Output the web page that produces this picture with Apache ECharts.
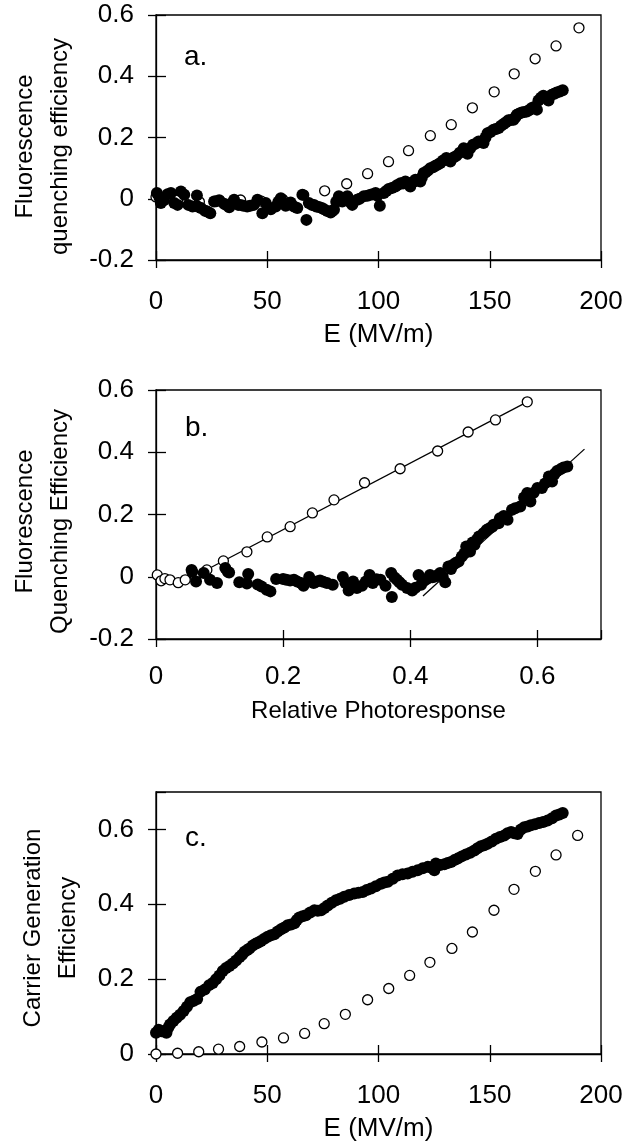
<!DOCTYPE html>
<html>
<head>
<meta charset="utf-8">
<script src="https://cdn.jsdelivr.net/npm/echarts@6/dist/echarts.min.js"></script>
<style>html,body{margin:0;padding:0;background:#fff}#c{width:634px;height:1147px}</style>
</head>
<body>
<div id="c"></div>
<script>
// ---------- DATA ----------
// Panel a: quenching efficiency vs E (MV/m)
const aHollow = [[0,.006],[9.7,-.004],[19.5,-.01],[28.6,-.006],[38,-.004],[47.4,-.008],[56.9,-.002],[66.4,.012],[75.8,.026],[85.7,.049],[95.1,.082],[104.5,.121],[113.5,.157],[123.3,.206],[132.7,.242],[142.2,.297],[152,.349],[161,.408],[170.4,.457],[179.8,.499],[190.1,.558]];
const aSolid = [[0.4,.019],[1.5,.005],[2.2,-.014],[3.5,-.005],[5.2,.015],[6.7,.019],[8.2,-.014],[9.7,-.02],[11.2,.024],[12.7,.013],[14.5,-.02],[16.4,-.025],[18.4,.011],[18.7,-.025],[20.2,-.03],[22,-.039],[23,-.042],[24.4,-.047],[26.1,-.009],[27,-.008],[28.4,-.005],[30.6,-.016],[31.5,-.02],[32.9,-.028],[34,-.015],[35.1,-.003],[36.9,-.02],[38,-.02],[39.3,-.023],[41,-.025],[42.3,-.023],[44,-.02],[45.6,-.003],[47.8,-.047],[49.3,-.014],[51.6,-.034],[53.8,-.025],[55,-.01],[56.1,.002],[58.3,-.023],[59.5,-.018],[60.5,-.012],[62,-.025],[63.5,-.03],[65.8,.013],[67.6,-.069],[68.7,-.014],[70,-.02],[71,-.02],[72,-.025],[73.2,-.027],[74.5,-.03],[75.5,-.034],[77,-.04],[78.5,-.045],[79.2,-.04],[80,-.036],[81,-.01],[82.2,.008],[83.7,-.009],[85,0],[86,.008],[87,-.01],[88.2,-.02],[90.4,-.003],[91.5,0],[93.4,.008],[95,.01],[96.4,.013],[97.5,.015],[98.7,.019],[99.5,.01],[100.6,-.023],[102.4,.019],[103.5,.025],[104.6,.032],[106,.035],[107.6,.04],[108.5,.045],[109.9,.051],[111,.05],[112.1,.056],[113.2,.05],[114.3,.04],[115.5,.055],[116.6,.062],[117.7,.06],[118.8,.056],[119.5,.07],[120.3,.084],[121.1,.086],[122.2,.092],[123.3,.1],[124.5,.103],[125.6,.108],[126.7,.112],[127.8,.117],[129,.125],[130.5,.133],[131.4,.128],[132.3,.122],[133.7,.135],[135,.14],[136.5,.15],[138.3,.165],[139.1,.158],[140,.147],[141.2,.165],[142.5,.176],[143.7,.18],[145,.187],[146.1,.185],[147.2,.182],[148.1,.2],[149,.214],[150.3,.218],[151.7,.225],[152.8,.228],[154,.231],[155.1,.238],[156.2,.244],[157.3,.25],[158.4,.256],[159.5,.257],[160.7,.258],[161.5,.266],[162.2,.274],[163.3,.278],[164.4,.282],[165.5,.283],[166.7,.285],[167.8,.29],[168.9,.296],[170,.3],[171.2,.291],[171.9,.321],[173,.33],[174.1,.336],[175.2,.33],[176.4,.321],[177.9,.34],[179,.343],[180.1,.347],[181.5,.35],[182.8,.354]];

// Panel b: quenching efficiency vs relative photoresponse
const bHollow = [[0.002,.006],[0.008,-.013],[0.014,-.006],[0.022,-.01],[0.035,-.019],[0.046,-.01],[0.062,0],[0.08,.022],[0.106,.051],[0.143,.08],[0.175,.128],[0.211,.161],[0.246,.205],[0.28,.247],[0.328,.302],[0.384,.347],[0.443,.404],[0.491,.465],[0.534,.504],[0.584,.562]];
const bSolid = [[.056,.022],[.057,.016],[.063,-.015],[.075,.012],[.085,-.01],[.096,-.02],[.109,.028],[.113,.016],[.115,.014],[.131,-.018],[.143,-.022],[.145,.009],[.16,-.025],[.166,-.031],[.174,-.042],[.18,-.047],[.189,-.007],[.2,-.007],[.205,-.01],[.211,-.012],[.217,-.01],[.222,-.015],[.228,-.02],[.232,-.029],[.241,-.001],[.248,-.02],[.253,-.015],[.258,-.012],[.263,-.016],[.269,-.02],[.278,-.026],[.294,-.001],[.298,-.02],[.303,-.044],[.31,-.015],[.316,-.036],[.324,-.029],[.33,-.015],[.336,.006],[.341,-.02],[.347,-.008],[.353,-.01],[.361,-.029],[.37,.012],[.371,-.065],[.375,-.002],[.379,-.01],[.383,-.018],[.387,-.026],[.395,-.036],[.403,-.044],[.408,-.035],[.413,.006],[.417,-.026],[.42,-.015],[.424,-.01],[.428,-.005],[.431,.006],[.435,-.002],[.439,.001],[.443,.005],[.447,.012],[.451,0],[.455,-.018],[.46,.033],[.464,.025],[.468,.039],[.472,.045],[.476,.049],[.481,.065],[.485,.075],[.488,.097],[.494,.081],[.498,.11],[.501,.103],[.505,.12],[.508,.129],[.515,.14],[.52,.15],[.524,.155],[.529,.161],[.531,.167],[.539,.172],[.541,.188],[.547,.195],[.553,.183],[.56,.215],[.565,.22],[.573,.226],[.579,.255],[.584,.269],[.589,.242],[.594,.27],[.6,.285],[.607,.285],[.612,.3],[.618,.322],[.623,.306],[.627,.33],[.631,.34],[.636,.345],[.641,.351],[.647,.354]];
const bFitHollow = [[0.066,0.008],[0.584,0.562]];
const bFitSolid = [[0.42,-0.062],[0.674,0.41]];

// Panel c: carrier generation efficiency vs E (MV/m)
const cHollow = [[0,0],[9.7,.002],[19.2,.006],[28.1,.013],[37.6,.02],[47.6,.032],[57.3,.043],[66.8,.055],[75.6,.081],[85.1,.106],[95.1,.145],[104.6,.175],[114,.21],[123.1,.245],[133,.282],[142.2,.326],[151.9,.384],[160.9,.44],[170.5,.488],[179.8,.532],[189.5,.584]];
const cSolid = [[0,.057],[1.2,.065],[2.4,.061],[3.6,.06],[4.7,.057],[5.5,.07],[6.3,.079],[7.8,.088],[9.3,.097],[10.8,.105],[12.4,.115],[13.9,.126],[15.4,.138],[17,.142],[18.5,.147],[20,.166],[21.9,.172],[23.9,.184],[25.5,.19],[27,.2],[28.5,.21],[30,.222],[31.5,.23],[33,.235],[34.5,.242],[36,.25],[37.6,.259],[38.7,.265],[39.8,.273],[41,.278],[42,.282],[43.5,.29],[45,.295],[46,.298],[47.2,.302],[48.7,.308],[50.2,.313],[51.7,.317],[53.2,.32],[54.7,.327],[56.2,.333],[57.7,.338],[59.2,.344],[60.7,.346],[62.2,.349],[63.3,.358],[64.4,.365],[65.9,.368],[67.4,.371],[69.3,.378],[71.2,.384],[72.7,.383],[74.2,.384],[75.7,.39],[77.2,.397],[79,.404],[80.9,.411],[82.7,.415],[84.6,.42],[86.8,.425],[89.1,.429],[91,.431],[92.9,.433],[94.7,.438],[96.6,.442],[98.8,.448],[101.1,.455],[102.6,.458],[104.2,.46],[106.4,.468],[108.6,.477],[110.8,.48],[113.1,.482],[115.3,.487],[117.6,.491],[119.9,.496],[122.2,.5],[123.6,.498],[125.1,.491],[125.8,.509],[127.7,.505],[129.6,.507],[131.1,.51],[132.6,.513],[134.1,.518],[135.6,.522],[137.4,.528],[139.3,.533],[141.2,.538],[143.1,.544],[144.5,.55],[146,.555],[147.5,.558],[149,.562],[150.9,.568],[152.8,.575],[154.6,.58],[156.5,.584],[158,.59],[159.6,.593],[161,.59],[162.5,.588],[164,.6],[165.5,.606],[167,.608],[168.5,.611],[170.3,.614],[172.2,.617],[174,.62],[176,.624],[178,.63],[179.8,.637],[181.3,.64],[182.8,.644]];

// Text
const panelLabels = ['a.', 'b.', 'c.'];
const xNames = ['E (MV/m)', 'Relative Photoresponse', 'E (MV/m)'];
const yNames = ['Fluorescence\nquenching efficiency', 'Fluorescence\nQuenching Efficiency', 'Carrier Generation\nEfficiency'];

// ---------- CHART ----------
const FONT = 'Liberation Sans, Arial, Helvetica, sans-serif';
const chart = echarts.init(document.getElementById('c'), null, {renderer: 'canvas'});
const fmt = v => String(Math.round(v * 10) / 10);
const lineStyle = {color: '#000', width: 1.3};

const grids = [
  {left: 155, top: 15, width: 446, height: 245},
  {left: 156, top: 390, width: 445, height: 249},
  {left: 156, top: 792, width: 445, height: 262}
];
const xRanges = [[0, 200, 50], [0, 0.7, 0.2], [0, 200, 50]];
const yRanges = [[-0.2, 0.6, 0.2], [-0.2, 0.6, 0.2], [0, 0.7, 0.2]];
const xLabelMargin = [29, 25, 29];
const yNameShift = [18, 14, 10];

const xAxes = [], yAxes = [];
for (let i = 0; i < 3; i++) {
  const [x0, x1, xi] = xRanges[i];
  const [y0, y1, yi] = yRanges[i];
  xAxes.push({
    gridIndex: i, type: 'value', position: 'bottom', min: x0, max: x1, interval: xi,
    axisLine: {show: true, onZero: false, lineStyle},
    axisTick: {show: true, inside: false, length: 8, lineStyle},
    axisLabel: {show: true, margin: xLabelMargin[i], fontSize: 26, color: '#000', fontFamily: FONT, formatter: fmt, showMaxLabel: i !== 1},
    splitLine: {show: false},
    name: xNames[i], nameLocation: 'middle', nameGap: i === 1 ? 60 : 62,
    nameTextStyle: {fontSize: i === 1 ? 24 : 26, color: '#000', fontFamily: FONT}
  });
  yAxes.push({
    gridIndex: i, type: 'value', position: 'left', min: y0, max: y1, interval: yi,
    axisLine: {show: true, onZero: false, lineStyle},
    axisTick: {show: true, inside: false, length: 8, lineStyle},
    axisLabel: {show: true, margin: 22, fontSize: 26, color: '#000', fontFamily: FONT, formatter: fmt, showMaxLabel: i !== 2},
    splitLine: {show: false},
    name: yNames[i], nameLocation: 'middle', nameRotate: 90, nameGap: i === 2 ? 70 : 78,
    nameTextStyle: {fontSize: 24, color: '#000', fontFamily: FONT, lineHeight: 35, padding: [0, yNameShift[i], 0, 0]}
  });
}
// companion axes: the inward half of the crossing tick marks
for (let i = 0; i < 3; i++) {
  const [x0, x1, xi] = xRanges[i];
  const [y0, y1, yi] = yRanges[i];
  xAxes.push({
    gridIndex: i, type: 'value', position: 'bottom', min: x0, max: x1, interval: xi,
    axisLine: {show: false, onZero: false}, axisTick: {show: true, inside: true, length: 9, lineStyle},
    axisLabel: {show: false}, splitLine: {show: false}
  });
  yAxes.push({
    gridIndex: i, type: 'value', position: 'left', min: y0, max: y1, interval: yi,
    axisLine: {show: false, onZero: false}, axisTick: {show: true, inside: true, length: 10, lineStyle},
    axisLabel: {show: false}, splitLine: {show: false}
  });
}

const hollow = (data, i) => ({
  type: 'scatter', xAxisIndex: i, yAxisIndex: i, data, symbol: 'circle', symbolSize: 10,
  itemStyle: {color: '#fff', borderColor: '#000', borderWidth: 1.3, opacity: 1}, z: 3, silent: true
});
const solid = (data, i) => ({
  type: 'scatter', xAxisIndex: i, yAxisIndex: i, data, symbol: 'circle', symbolSize: 12,
  itemStyle: {color: '#000', opacity: 1}, z: 4, silent: true
});
const fit = (data, i) => ({
  type: 'line', xAxisIndex: i, yAxisIndex: i, data, symbol: 'none',
  lineStyle: {color: '#000', width: 1.3}, z: 2, silent: true
});

const labelPos = [[184, 43], [185, 414], [185, 824]];

chart.setOption({
  animation: false,
  backgroundColor: '#fff',
  textStyle: {fontFamily: FONT},
  title: panelLabels.map((t, i) => ({
    text: t, left: labelPos[i][0], top: labelPos[i][1], padding: 0,
    textStyle: {fontSize: 28, fontWeight: 'normal', color: '#000', fontFamily: FONT}
  })),
  grid: grids.map(g => Object.assign({show: true, borderColor: '#000', borderWidth: 1.3, backgroundColor: 'transparent', containLabel: false}, g)),
  xAxis: xAxes,
  yAxis: yAxes,
  series: [
    fit(bFitHollow, 1), fit(bFitSolid, 1),
    hollow(aHollow, 0), solid(aSolid, 0),
    hollow(bHollow, 1), solid(bSolid, 1),
    hollow(cHollow, 2), solid(cSolid, 2)
  ]
});
</script>
</body>
</html>
